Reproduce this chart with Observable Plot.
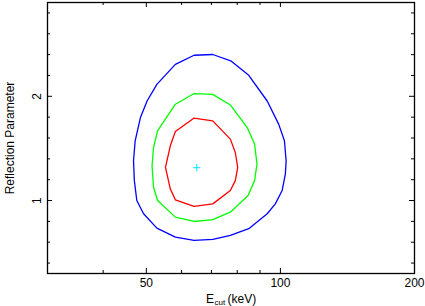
<!DOCTYPE html>
<html>
<head>
<meta charset="utf-8">
<script src="https://cdn.jsdelivr.net/npm/d3@7"></script>
<script src="https://cdn.jsdelivr.net/npm/@observablehq/plot@0.6"></script>
<style>
  html, body { margin: 0; padding: 0; background: #ffffff; }
  #chart svg { display: block; }
</style>
</head>
<body>
<div id="chart"></div>
<script>
// Tick values
const xMajor = [50, 100, 200];
const xMinor = [40, 60, 70, 80, 90];
const yMajor = [1, 2];
const yMinor = [0.4, 0.6, 0.8, 1.2, 1.4, 1.6, 1.8, 2.2, 2.4, 2.6, 2.8];

// Best fit
const bestE = [64.9];
const bestR = [1.315];

// Outer contour (blue)
const blueE = [64.0, 70.5, 77.6, 84.9, 93.4, 99.1, 102.1, 103.0, 102.6, 100.9, 97.4, 93.4, 84.9, 77.2, 70.5, 64.0, 58.1, 52.8, 49.3, 47.6, 47.0, 46.8, 47.2, 48.5, 50.2, 52.8, 58.1, 64.0];
const blueR = [2.394, 2.401, 2.337, 2.201, 1.955, 1.733, 1.573, 1.382, 1.255, 1.096, 0.968, 0.873, 0.730, 0.666, 0.628, 0.618, 0.649, 0.735, 0.873, 1.000, 1.191, 1.382, 1.573, 1.796, 1.955, 2.115, 2.306, 2.394];

// Middle contour (green)
const greenE = [63.9, 70.5, 77.2, 84.4, 87.5, 88.6, 87.5, 84.6, 77.2, 70.5, 64.0, 58.1, 53.0, 51.9, 51.5, 51.9, 53.0, 58.1, 63.9];
const greenR = [2.025, 2.019, 1.917, 1.694, 1.542, 1.351, 1.191, 1.048, 0.888, 0.816, 0.799, 0.841, 1.000, 1.127, 1.334, 1.509, 1.669, 1.924, 2.025];

// Inner contour (red)
const redE = [63.9, 70.5, 77.2, 79.2, 80.2, 79.2, 77.2, 70.5, 64.0, 58.1, 56.6, 55.2, 56.6, 58.1, 63.9];
const redR = [1.790, 1.764, 1.589, 1.461, 1.318, 1.191, 1.096, 0.968, 0.943, 1.007, 1.112, 1.318, 1.525, 1.662, 1.790];

const toRows = (E, R) => E.map((e, i) => ({E: e, R: R[i]}));
const blue = toRows(blueE, blueR);
const green = toRows(greenE, greenR);
const red = toRows(redE, redR);
const best = toRows(bestE, bestR);

const W = 425, H = 306;
const mL = 47, mR = 11, mT = 2, mB = 33;
const plotW = W - mL - mR, plotH = H - mT - mB;
const major = 5, minor = 3;

const xTicks = (vals, len) => [
  Plot.tickX(vals, {x: d => d, insetTop: plotH - len, stroke: "black", strokeWidth: 1}),
  Plot.tickX(vals, {x: d => d, insetBottom: plotH - len, stroke: "black", strokeWidth: 1})
];
const yTicks = (vals, len) => [
  Plot.tickY(vals, {y: d => d, insetRight: plotW - len, stroke: "black", strokeWidth: 1}),
  Plot.tickY(vals, {y: d => d, insetLeft: plotW - len, stroke: "black", strokeWidth: 1})
];

const chart = Plot.plot({
  width: W,
  height: H,
  marginLeft: mL,
  marginRight: mR,
  marginTop: mT,
  marginBottom: mB,
  x: {type: "log", domain: [30, 200], axis: null},
  y: {domain: [0.3, 2.9], axis: null},
  style: {fontFamily: "'Liberation Sans', Arial, Helvetica, sans-serif", fontSize: "12px", background: "#ffffff", color: "black"},
  marks: [
    Plot.line(blue, {x: "E", y: "R", stroke: "#0000ff", strokeWidth: 1.3}),
    Plot.line(green, {x: "E", y: "R", stroke: "#00ff00", strokeWidth: 1.3}),
    Plot.line(red, {x: "E", y: "R", stroke: "#ff0000", strokeWidth: 1.3}),
    Plot.dot(best, {x: "E", y: "R", symbol: "plus", r: 2.5, stroke: "#00e5ff", strokeWidth: 1}),
    ...xTicks(xMajor, major),
    ...xTicks(xMinor, minor),
    ...yTicks(yMajor, major),
    ...yTicks(yMinor, minor),
    Plot.frame({stroke: "black", strokeWidth: 1.3}),
    Plot.text(xMajor, {x: d => d, frameAnchor: "bottom", dy: 5, lineAnchor: "top", textAnchor: "middle", text: d => String(d), fontSize: 12, fill: "black"}),
    Plot.text(yMajor, {y: d => d, frameAnchor: "left", dx: -7, rotate: -90, lineAnchor: "bottom", textAnchor: "middle", text: d => String(d), fontSize: 12, fill: "black"}),
    Plot.text(["Reflection Parameter"], {frameAnchor: "left", dx: -37, rotate: -90, lineAnchor: "middle", textAnchor: "middle", text: d => d, fontSize: 12, fill: "black"}),
    Plot.text(["E"], {frameAnchor: "bottom", dx: -25, dy: 29, lineAnchor: "bottom", textAnchor: "start", text: d => d, fontSize: 12, fill: "black"}),
    Plot.text(["cut"], {frameAnchor: "bottom", dx: -16.5, dy: 31, lineAnchor: "bottom", textAnchor: "start", text: d => d, fontSize: 8, fill: "black"}),
    Plot.text(["(keV)"], {frameAnchor: "bottom", dx: -3.5, dy: 29, lineAnchor: "bottom", textAnchor: "start", text: d => d, fontSize: 12, fill: "black"})
  ]
});
document.getElementById("chart").appendChild(chart);
</script>
</body>
</html>
